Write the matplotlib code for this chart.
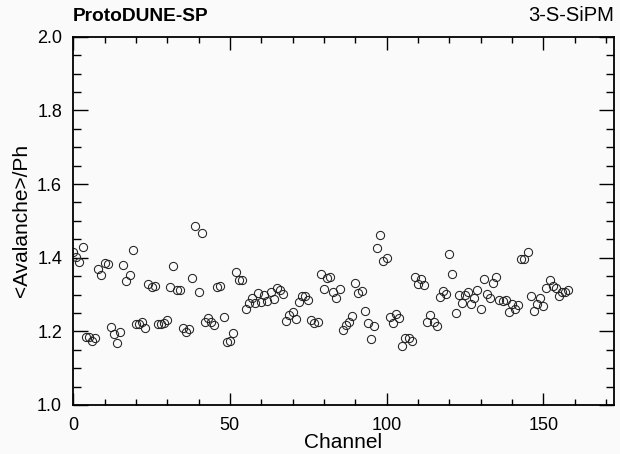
import numpy as np
import matplotlib
matplotlib.use("Agg")
import matplotlib.pyplot as plt
from matplotlib.ticker import MultipleLocator

# <Avalanche>/Ph per channel
avalanche = [
    1.415, 1.401, 1.389, 1.429, 1.185, 1.185, 1.174, 1.182, 1.368, 1.353,
    1.386, 1.383, 1.211, 1.193, 1.167, 1.197, 1.380, 1.337, 1.352, 1.422,
    1.221, 1.221, 1.224, 1.208, 1.329, 1.321, 1.324, 1.219, 1.219, 1.222,
    1.232, 1.320, 1.377, 1.311, 1.313, 1.210, 1.197, 1.205, 1.345, 1.487,
    1.307, 1.467, 1.226, 1.235, 1.224, 1.217, 1.320, 1.324, 1.238, 1.170,
    1.174, 1.195, 1.362, 1.339, 1.340, 1.260, 1.276, 1.291, 1.276, 1.303,
    1.279, 1.299, 1.282, 1.308, 1.288, 1.317, 1.311, 1.301, 1.228, 1.244,
    1.252, 1.233, 1.279, 1.295, 1.295, 1.286, 1.230, 1.223, 1.226, 1.357,
    1.315, 1.344, 1.348, 1.306, 1.291, 1.315, 1.204, 1.217, 1.224, 1.242,
    1.331, 1.304, 1.309, 1.256, 1.222, 1.179, 1.215, 1.426, 1.461, 1.391,
    1.398, 1.239, 1.222, 1.246, 1.235, 1.159, 1.183, 1.183, 1.174, 1.348,
    1.328, 1.341, 1.326, 1.226, 1.244, 1.224, 1.215, 1.294, 1.310, 1.301,
    1.409, 1.357, 1.250, 1.300, 1.277, 1.300, 1.306, 1.274, 1.291, 1.312,
    1.260, 1.341, 1.302, 1.290, 1.331, 1.348, 1.284, 1.282, 1.284, 1.252,
    1.273, 1.260, 1.271, 1.396, 1.396, 1.415, 1.296, 1.255, 1.273, 1.291,
    1.269, 1.318, 1.339, 1.323, 1.317, 1.297, 1.306, 1.308, 1.311,
]
channels = np.arange(len(avalanche))

x_ticks = [0, 50, 100, 150]
y_ticks = [1.0, 1.2, 1.4, 1.6, 1.8, 2.0]

plt.rcParams["font.family"] = ["Liberation Sans", "DejaVu Sans"]

bg = "#fafafa"
fig = plt.figure(figsize=(6.2, 4.54), dpi=100, facecolor=bg)
ax = fig.add_axes([0.118, 0.108, 0.872, 0.811], facecolor=bg)

ax.plot(channels, avalanche, linestyle="none", marker="o", markersize=5.9,
        markerfacecolor="none", markeredgecolor="#222222", markeredgewidth=0.75)

ax.set_xlim(0, 172.5)
ax.set_ylim(1.0, 2.0)
ax.set_xticks(x_ticks)
ax.set_yticks(y_ticks)
ax.set_yticklabels([f"{v:.1f}" for v in y_ticks])
ax.xaxis.set_minor_locator(MultipleLocator(10))
ax.yaxis.set_minor_locator(MultipleLocator(0.05))

ax.tick_params(axis="both", which="both", direction="in", top=True, right=True,
               labelsize=13, width=1.0, color="black")
ax.tick_params(axis="x", which="major", length=9, pad=9)
ax.tick_params(axis="x", which="minor", length=4.5)
ax.tick_params(axis="y", which="major", length=11, pad=8)
ax.tick_params(axis="y", which="minor", length=5.5)
for s in ax.spines.values():
    s.set_linewidth(1.3)

ax.set_xlabel("Channel", fontsize=15, labelpad=-1)
ax.set_ylabel("<Avalanche>/Ph", fontsize=15, labelpad=4)

fig.text(0.118, 0.945, "ProtoDUNE-SP", fontsize=13.8, fontweight="bold",
         ha="left", va="bottom")
fig.text(0.99, 0.945, "3-S-SiPM", fontsize=14.5, ha="right", va="bottom")

fig.savefig("out.png", dpi=100, facecolor=bg)
